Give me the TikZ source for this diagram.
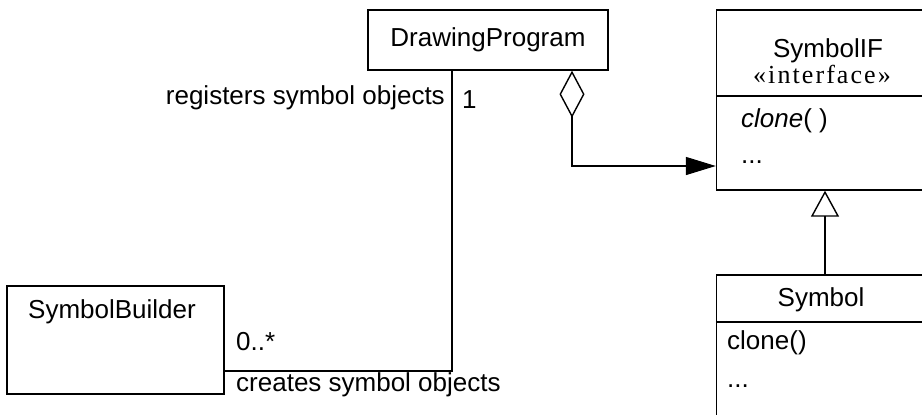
\documentclass[tikz,border=0pt]{standalone}
\usepackage{fontspec}
\setmainfont{Liberation Sans}
\newfontfamily\stereofont{Liberation Serif}[LetterSpace=8]
\usetikzlibrary{arrows.meta,positioning}
\newcommand\umlfont{\fontsize{26}{30}\selectfont}
\tikzset{
  uml/.style={draw,line width=1.4pt},
  class/.style={uml,rectangle,inner sep=0pt,font=\umlfont},
  lbl/.style={inner sep=0pt,font=\umlfont},
  assoc/.style={uml},
  aggr/.style={uml,{Diamond[open,length=47pt,width=25pt]}-{Triangle[length=30pt,width=18pt]}},
  inherit/.style={uml,-{Triangle[open,length=26pt,width=28pt]}},
}

\begin{document}
\begin{tikzpicture}[x=1pt,y=-1pt]
  \clip (0,0) rectangle (922,415);
  % classes
  \node[class,minimum width=240pt,minimum height=60pt] (prog) at (488,40) {DrawingProgram};
  \node[class,minimum width=217pt,minimum height=108pt] (builder) at (115.5,340) {};
  \node[lbl,anchor=base] (builder-name) at (112,318) {SymbolBuilder};
  % interface, runs off the right edge
  \node[class,minimum width=240pt,minimum height=180pt] (iface) at (836.5,100) {};
  \draw[uml] (iface.west |- 0,96) -- (iface.east |- 0,96);
  \node[lbl,anchor=base] (iface-name) at (828,57) {SymbolIF};
  \node[lbl,anchor=base,font=\stereofont\umlfont] (iface-stereo) at (822,83) {«interface»};
  \node[lbl,anchor=base west] (iface-op) at (741,127) {{\itshape clone}( )};
  \node[lbl,anchor=base west] (iface-more) at (741,163) {...};
  % concrete class, runs off the bottom
  \node[class,minimum width=240pt,minimum height=200pt] (sym) at (836.5,375) {};
  \draw[uml] (sym.west |- 0,322) -- (sym.east |- 0,322);
  \node[lbl,anchor=base] (sym-name) at (821,306) {Symbol};
  \node[lbl,anchor=base west] (sym-op) at (727,349) {clone()};
  \node[lbl,anchor=base west] (sym-more) at (727,387) {...};
  % connectors
  \coordinate (bend) at (452,371);
  \draw[assoc] ([yshift=-31pt]builder.east) -- (bend) -- (bend |- prog.south);
  \coordinate (hub) at (prog.south -| 572,0);
  \draw[aggr] (hub) |- (iface.west |- 0,166);
  \coordinate (gen) at (825,0);
  \draw[inherit] (gen |- sym.north) -- (gen |- iface.south);
  % association labels
  \node[lbl,anchor=base east] (reg) at (445,104) {registers symbol objects};
  \node[lbl,anchor=base west] (one) at (462,108) {1};
  \node[lbl,anchor=base west] (many) at (236,350) {0..*};
  \node[lbl,anchor=base west] (creates) at (236,391) {creates symbol objects};
\end{tikzpicture}
\end{document}
